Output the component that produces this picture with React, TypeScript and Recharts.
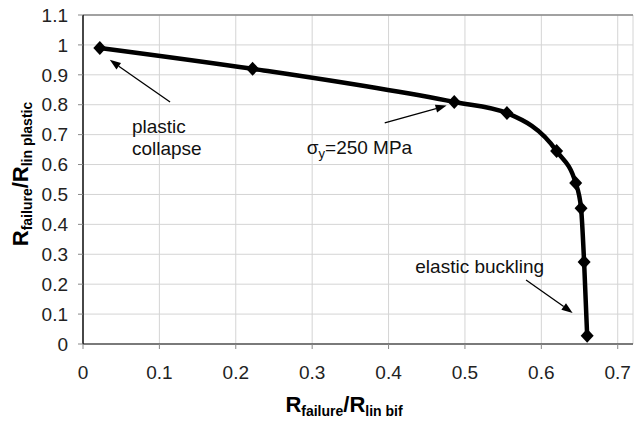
import { LineChart, Line, XAxis, YAxis, CartesianGrid, ReferenceLine, ReferenceDot } from 'recharts';

const xValues = [0.022, 0.222, 0.486, 0.555, 0.62, 0.645, 0.652, 0.656, 0.66];
const yValues = [0.99, 0.92, 0.809, 0.772, 0.645, 0.538, 0.454, 0.274, 0.028];
const xTicks = [0, 0.1, 0.2, 0.3, 0.4, 0.5, 0.6, 0.7];
const yTicks = [0, 0.1, 0.2, 0.3, 0.4, 0.5, 0.6, 0.7, 0.8, 0.9, 1, 1.1];

// arrows: tail -> head, in data units
const arrows = [
  { from: [0.114, 0.809], to: [0.035, 0.95] },
  { from: [0.395, 0.739], to: [0.476, 0.797] },
  { from: [0.58, 0.214], to: [0.641, 0.104] },
];

const data = xValues.map((x, i) => ({ x, y: yValues[i] }));

const font = '"Liberation Sans", Arial, sans-serif';

function Diamond(props: any) {
  const { cx, cy } = props;
  if (cx == null || cy == null) return null;
  return <polygon points={`${cx},${cy - 7} ${cx + 6.5},${cy} ${cx},${cy + 7} ${cx - 6.5},${cy}`} fill="#000" />;
}

function Arrow(props: any) {
  const { x1, y1, x2, y2 } = props;
  if (x1 == null) return null;
  const a = Math.atan2(y2 - y1, x2 - x1);
  const len = 11;
  const w = 4;
  const bx = x2 - len * Math.cos(a);
  const by = y2 - len * Math.sin(a);
  const px = -Math.sin(a) * w;
  const py = Math.cos(a) * w;
  return (
    <g>
      <line x1={x1} y1={y1} x2={bx} y2={by} stroke="#000" strokeWidth={1.3} />
      <polygon points={`${x2},${y2} ${bx + px},${by + py} ${bx - px},${by - py}`} fill="#000" />
    </g>
  );
}

function XLabel(props: any) {
  const vb = props.viewBox;
  const cx = vb.x + vb.width / 2 - 14;
  return (
    <text x={cx} y={412} textAnchor="middle" fontFamily={font} fontWeight="bold" fill="#000">
      <tspan fontSize={22}>R</tspan>
      <tspan fontSize={14} dy={4}>failure</tspan>
      <tspan fontSize={22} dy={-4}>/R</tspan>
      <tspan fontSize={14} dy={4}>lin bif</tspan>
    </text>
  );
}

function YLabel() {
  const x = 28;
  const y = 174;
  return (
    <text x={x} y={y} transform={`rotate(-90 ${x} ${y})`} textAnchor="middle" fontFamily={font} fontWeight="bold" fill="#000">
      <tspan fontSize={22}>R</tspan>
      <tspan fontSize={14} dy={4}>failure</tspan>
      <tspan fontSize={22} dy={-4}>/R</tspan>
      <tspan fontSize={14} dy={4}>lin plastic</tspan>
    </text>
  );
}

export default function App() {
  return (
    <div style={{ position: 'absolute', left: 0, top: 0, background: '#fff' }}>
      <LineChart width={634} height={421} data={data} margin={{ top: 15, right: 1, bottom: 47, left: 0 }}>
        <CartesianGrid stroke="#d4d4d4" />
        <XAxis
          type="number"
          dataKey="x"
          domain={[0, 0.72]}
          ticks={xTicks}
          height={30}
          tickSize={5}
          tickMargin={17}
          axisLine={{ stroke: '#555', strokeWidth: 1.5 }}
          tickLine={{ stroke: '#888' }}
          tick={{ fill: '#222', fontSize: 19, fontFamily: font }}
          label={<XLabel />}
        />
        <YAxis
          type="number"
          domain={[0, 1.1]}
          ticks={yTicks}
          width={83}
          tickSize={5}
          tickMargin={10}
          axisLine={{ stroke: '#111', strokeWidth: 1.5 }}
          tickLine={{ stroke: '#888' }}
          tick={{ fill: '#222', fontSize: 19, fontFamily: font }}
          label={<YLabel />}
        />
        <ReferenceLine y={1.1} stroke="#888" strokeWidth={1.5} />
        {arrows.map((a, i) => (
          <ReferenceLine
            key={i}
            segment={[{ x: a.from[0], y: a.from[1] }, { x: a.to[0], y: a.to[1] }]}
            shape={<Arrow />}
          />
        ))}
        <ReferenceDot
          x={0.064}
          y={0.706}
          r={0}
          shape={(p: any) => (
            <text x={p.cx} y={p.cy} fontFamily={font} fontSize={19} fill="#111">
              <tspan x={p.cx}>plastic</tspan>
              <tspan x={p.cx} dy={22}>collapse</tspan>
            </text>
          )}
        />
        <ReferenceDot
          x={0.293}
          y={0.635}
          r={0}
          shape={(p: any) => (
            <text x={p.cx} y={p.cy} fontFamily={font} fontSize={19} fill="#111">
              <tspan>σ</tspan>
              <tspan fontSize={13} dy={4}>y</tspan>
              <tspan dy={-4}>=250 MPa</tspan>
            </text>
          )}
        />
        <ReferenceDot
          x={0.435}
          y={0.237}
          r={0}
          shape={(p: any) => (
            <text x={p.cx} y={p.cy} fontFamily={font} fontSize={19} fill="#111">
              elastic buckling
            </text>
          )}
        />
        <Line
          type="monotone"
          dataKey="y"
          stroke="#000"
          strokeWidth={4.5}
          dot={<Diamond />}
          activeDot={false}
          isAnimationActive={false}
        />
      </LineChart>
    </div>
  );
}
